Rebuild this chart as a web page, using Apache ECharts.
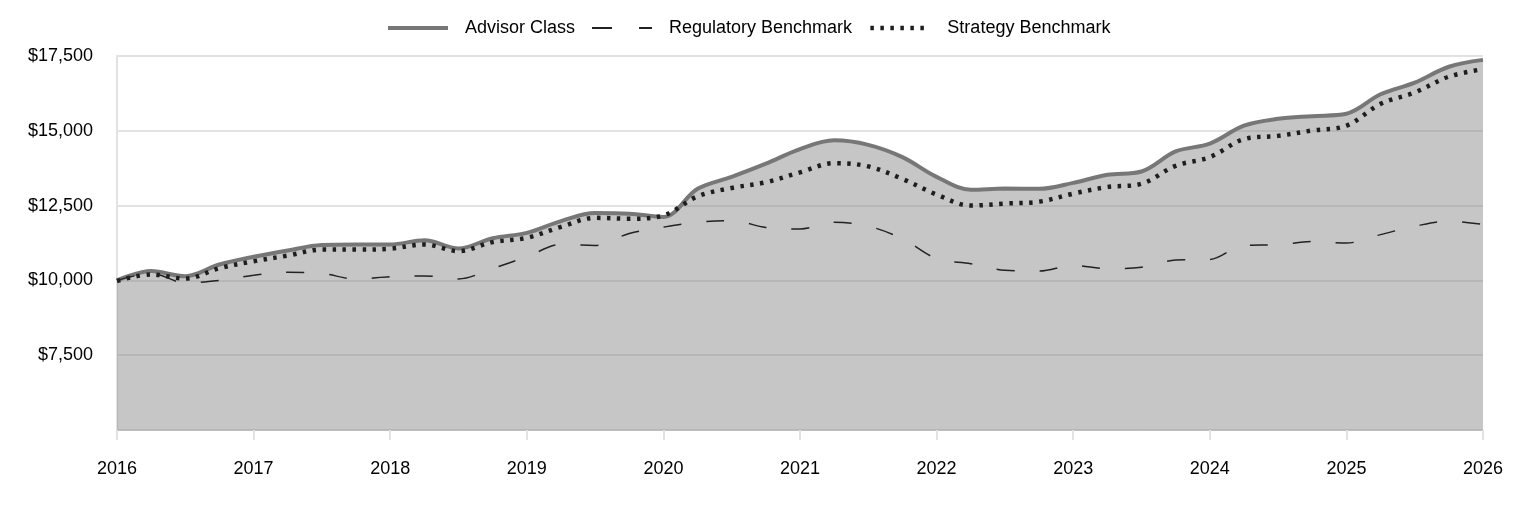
<!DOCTYPE html>
<html>
<head>
<meta charset="utf-8">
<script src="https://cdn.jsdelivr.net/npm/echarts@6/dist/echarts.min.js"></script>
<style>
  html, body { margin: 0; padding: 0; background: #fff; }
  #chart { width: 1524px; height: 516px; }
</style>
</head>
<body>
<div id="chart"></div>
<script>
// quarterly points, 2016 → 2026
const quarters = [
  '2016-01', '2016-04', '2016-07', '2016-10',
  '2017-01', '2017-04', '2017-07', '2017-10',
  '2018-01', '2018-04', '2018-07', '2018-10',
  '2019-01', '2019-04', '2019-07', '2019-10',
  '2020-01', '2020-04', '2020-07', '2020-10',
  '2021-01', '2021-04', '2021-07', '2021-10',
  '2022-01', '2022-04', '2022-07', '2022-10',
  '2023-01', '2023-04', '2023-07', '2023-10',
  '2024-01', '2024-04', '2024-07', '2024-10',
  '2025-01', '2025-04', '2025-07', '2025-10',
  '2026-01'
];

const advisorClass = [
  10000, 10310, 10140, 10530,
  10790, 11000, 11180, 11200,
  11200, 11340, 11070, 11410,
  11590, 11980, 12250, 12230,
  12120, 13060, 13460, 13900,
  14390, 14680, 14530, 14120,
  13460, 13030, 13070, 13060,
  13260, 13530, 13640, 14310,
  14570, 15170, 15400, 15490,
  15570, 16220, 16610, 17140,
  17370
];

const regulatoryBenchmark = [
  10000, 10230, 9920, 10000,
  10170, 10270, 10230, 10050,
  10120, 10150, 10050, 10400,
  10790, 11200, 11170, 11570,
  11780, 11940, 12000, 11770,
  11720, 11940, 11810, 11390,
  10730, 10560, 10340, 10310,
  10500, 10390, 10440, 10680,
  10700, 11170, 11190, 11300,
  11250, 11530, 11810, 11980,
  11870
];

const strategyBenchmark = [
  9980, 10200, 10060, 10410,
  10640, 10830, 11030, 11030,
  11060, 11200, 10980, 11280,
  11420, 11790, 12090, 12060,
  12170, 12810, 13090, 13280,
  13610, 13920, 13810, 13390,
  12870, 12500, 12570, 12630,
  12900, 13120, 13230, 13830,
  14120, 14720, 14830, 15010,
  15170, 15900, 16280, 16810,
  17060
];

const yTicks = { min: 5000, max: 17500, step: 2500 };

const fontFamily = "Arial, 'Liberation Sans', sans-serif";
const textColor = '#000';
const lightGrey = '#e2e2e2';

const advisorLine = { color: '#777', width: 4 };
const regulatoryLine = { color: '#222', width: 1.5, type: [18, 25] };
const strategyLine = { color: '#1e1e1e', width: 4.5, type: [3.5, 6.5] };

const chart = echarts.init(document.getElementById('chart'), null, { renderer: 'canvas' });

const option = {
  animation: false,
  backgroundColor: '#fff',
  textStyle: { fontFamily: fontFamily, color: textColor },
  legend: {
    top: 14,
    left: 381,
    itemWidth: 60,
    itemHeight: 14,
    itemGap: 16,
    itemStyle: { opacity: 0 },
    textStyle: {
      fontSize: 18,
      color: textColor,
      fontFamily: fontFamily,
      padding: [0, 0, 0, 12]
    },
    data: [
      { name: 'Advisor Class', lineStyle: advisorLine },
      { name: 'Regulatory Benchmark', lineStyle: { ...regulatoryLine, width: 2, type: [20, 27] } },
      { name: 'Strategy Benchmark', lineStyle: strategyLine }
    ]
  },
  grid: { left: 117, right: 41, top: 56, bottom: 86, containLabel: false },
  xAxis: {
    type: 'category',
    data: quarters,
    boundaryGap: false,
    axisLine: { lineStyle: { color: '#bdbdbd', width: 1 } },
    axisTick: { interval: 3, length: 10, lineStyle: { color: lightGrey, width: 2 } },
    axisLabel: {
      interval: 3,
      margin: 30,
      fontSize: 18,
      color: textColor,
      fontFamily: fontFamily,
      formatter: (v) => v.slice(0, 4)
    },
    splitLine: { show: false }
  },
  yAxis: {
    type: 'value',
    min: yTicks.min,
    max: yTicks.max,
    interval: yTicks.step,
    axisLine: { show: true, lineStyle: { color: lightGrey, width: 2 } },
    axisTick: { show: false },
    axisLabel: {
      margin: 24,
      fontSize: 18,
      color: textColor,
      fontFamily: fontFamily,
      formatter: (v) => v === yTicks.min ? '' : '$' + v.toLocaleString('en-US')
    },
    splitLine: { lineStyle: { color: lightGrey, width: 2 } }
  },
  series: [
    {
      name: 'Advisor Class',
      type: 'line',
      data: advisorClass,
      smooth: 0.35,
      symbol: 'none',
      z: 3,
      lineStyle: advisorLine,
      itemStyle: { color: '#777' },
      areaStyle: { color: 'rgba(136,136,136,0.48)', opacity: 1, origin: 'start' }
    },
    {
      name: 'Regulatory Benchmark',
      type: 'line',
      data: regulatoryBenchmark,
      smooth: 0.35,
      symbol: 'none',
      z: 5,
      lineStyle: regulatoryLine,
      itemStyle: { color: '#222' }
    },
    {
      name: 'Strategy Benchmark',
      type: 'line',
      data: strategyBenchmark,
      smooth: 0.35,
      symbol: 'none',
      z: 4,
      lineStyle: strategyLine,
      itemStyle: { color: '#222' }
    }
  ]
};

chart.setOption(option);

window.addEventListener('resize', () => chart.resize());
</script>
</body>
</html>
